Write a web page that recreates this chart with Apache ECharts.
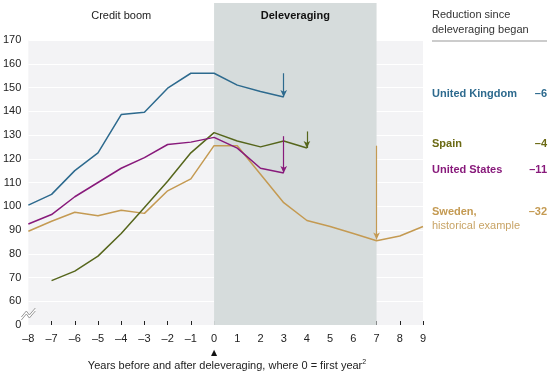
<!DOCTYPE html>
<html>
<head>
<meta charset="utf-8">
<script src="https://cdn.jsdelivr.net/npm/echarts@6/dist/echarts.min.js"></script>
<style>
  html, body {margin: 0; padding: 0; background: #fff;}
  #chart {width: 554px; height: 376px;}
</style>
</head>
<body>
<div id="chart"></div>
<script>
// years relative to start of deleveraging
const years = [-8, -7, -6, -5, -4, -3, -2, -1, 0, 1, 2, 3, 4, 5, 6, 7, 8, 9]
const tickYears = [-7, -6, -5, -4, -3, -2, -1, 0, 1, 2, 3, 4, 5, 6, 7, 8, 9]
const uk     = [100.5, 105, 115, 122.5, 138.6, 139.6, 149.7, 156, 156, 151, 148.3, 146, null, null, null, null, null, null]
const spain  = [null, 68.7, 72.7, 79, 88.5, 99.5, 110.5, 122.5, 131, 127.5, 125, 127.5, 124.5, null, null, null, null, null]
const us     = [92.5, 96.5, 104, 110, 116, 120.5, 126, 127, 129, 124.5, 116, 114, null, null, null, null, null, null]
const sweden = [89.5, 93.7, 97.5, 96, 98.3, 97, 106.5, 111.5, 125.5, 125.5, 113.5, 101.5, 94, 91.5, 88.5, 85.5, 87.5, 91.5]

// reduction arrows: [year, from, to]
const ukArrow = [3, 156, 146]
const spainArrow = [4, 131.5, 124.5]
const usArrow = [3, 129.5, 114]
const swedenArrow = [7, 125.5, 86]

const colors = {uk: '#2d6a8e', spain: '#56661c', us: '#881a7b', sweden: '#c49a52'}
const font = 'Liberation Sans, Arial, sans-serif'

const chart = echarts.init(document.getElementById('chart'))

const pair = (ys) => years.map((x, i) => [x, ys[i]])

const arrow = function (a, color) {
  return {
    silent: true,
    symbol: ['none', 'arrow'],
    symbolSize: [5, 7],
    label: {show: false},
    lineStyle: {color: color, width: 1.2, type: 'solid'},
    data: [[{coord: [a[0], a[1]]}, {coord: [a[0], a[2]]}]]
  }
}

const lineSeries = function (name, ys, color, a) {
  return {
    name: name,
    type: 'line',
    data: pair(ys),
    symbol: 'none',
    connectNulls: false,
    lineStyle: {color: color, width: 1.5},
    itemStyle: {color: color},
    markLine: arrow(a, color),
    z: 3
  }
}

chart.setOption({
  animation: false,
  grid: {
    left: 28, right: 131, top: 40, bottom: 51,
    show: true, backgroundColor: '#f3f3f5', borderWidth: 0
  },
  xAxis: {
    type: 'value', min: -8, max: 9, interval: 1,
    axisLine: {show: false},
    axisTick: {show: true, inside: true, length: 4, customValues: tickYears, lineStyle: {color: '#222'}},
    splitLine: {show: false},
    axisLabel: {
      color: '#222', fontFamily: font, fontSize: 11, margin: 8,
      formatter: v => v < 0 ? '\u2013' + (-v) : String(v)
    }
  },
  yAxis: {
    type: 'value', min: 50, max: 170, interval: 10,
    axisLine: {show: false},
    axisTick: {show: false},
    splitLine: {lineStyle: {color: '#ffffff', width: 1}},
    axisLabel: {
      color: '#222', fontFamily: font, fontSize: 11, margin: 7,
      formatter: v => v === 50 ? '0' : String(v)
    }
  },
  series: [
    {
      type: 'line', data: [], silent: true,
      markArea: {
        silent: true,
        itemStyle: {color: '#d6dcdc'},
        data: [[{coord: [0, 50]}, {coord: [7, 170]}]]
      },
      z: 1
    },
    lineSeries('Sweden', sweden, colors.sweden, swedenArrow),
    lineSeries('Spain', spain, colors.spain, spainArrow),
    lineSeries('United States', us, colors.us, usArrow),
    lineSeries('United Kingdom', uk, colors.uk, ukArrow)
  ]
})

// decorations positioned from the axes
const p0 = chart.convertToPixel({gridIndex: 0}, [0, 170])
const p7 = chart.convertToPixel({gridIndex: 0}, [7, 170])
const pl = chart.convertToPixel({gridIndex: 0}, [-8, 50])

chart.setOption({
  graphic: [
    {type: 'rect', shape: {x: p0[0], y: 3, width: p7[0] - p0[0], height: p0[1] - 3}, style: {fill: '#d6dcdc'}, z: 0, silent: true},
    {type: 'text', x: (pl[0] + p0[0]) / 2, y: 16, style: {text: 'Credit boom', fill: '#222', font: '11px ' + font, align: 'center', verticalAlign: 'middle'}},
    {type: 'text', x: (p0[0] + p7[0]) / 2, y: 16, style: {text: 'Deleveraging', fill: '#111', font: 'bold 11px ' + font, align: 'center', verticalAlign: 'middle'}},
    // axis break mark
    {type: 'polygon', shape: {points: [[pl[0] - 7, pl[1] - 8], [pl[0] - 2, pl[1] - 14], [pl[0] + 1, pl[1] - 10], [pl[0] + 7, pl[1] - 17],
      [pl[0] + 7, pl[1] - 14], [pl[0] + 1, pl[1] - 7], [pl[0] - 2, pl[1] - 11], [pl[0] - 7, pl[1] - 5]]}, style: {fill: '#fff', stroke: null}, z: 10},
    {type: 'polyline', shape: {points: [[pl[0] - 7, pl[1] - 8], [pl[0] - 2, pl[1] - 14], [pl[0] + 1, pl[1] - 10], [pl[0] + 7, pl[1] - 17]]}, style: {stroke: '#999', lineWidth: 1, fill: null}, z: 11},
    {type: 'polyline', shape: {points: [[pl[0] - 7, pl[1] - 5], [pl[0] - 2, pl[1] - 11], [pl[0] + 1, pl[1] - 7], [pl[0] + 7, pl[1] - 14]]}, style: {stroke: '#999', lineWidth: 1, fill: null}, z: 11},
    // marker under year 0
    {type: 'text', x: p0[0], y: 353, style: {text: '\u25B2', fill: '#111', font: '8px DejaVu Sans', align: 'center', verticalAlign: 'middle'}},
    {type: 'text', x: 227, y: 366, style: {
      text: '{a|Years before and after deleveraging, where 0 = first year}{s|2}',
      align: 'center', verticalAlign: 'middle',
      rich: {a: {fill: '#222', font: '11px ' + font}, s: {fill: '#222', font: '7px ' + font, verticalAlign: 'top', padding: [0, 0, 7, 0]}}
    }},
    // right side legend
    {type: 'text', x: 432, y: 22, style: {text: 'Reduction since\ndeleveraging began', fill: '#333', font: '11px ' + font, lineHeight: 15, verticalAlign: 'middle'}},
    {type: 'line', shape: {x1: 432, y1: 41, x2: 547, y2: 41}, style: {stroke: '#999', lineWidth: 1}},
    {type: 'text', x: 432, y: 94, style: {text: 'United Kingdom', fill: colors.uk, font: 'bold 11px ' + font, verticalAlign: 'middle'}},
    {type: 'text', x: 547, y: 94, style: {text: '\u20136', fill: colors.uk, font: 'bold 11px ' + font, align: 'right', verticalAlign: 'middle'}},
    {type: 'text', x: 432, y: 144, style: {text: 'Spain', fill: '#6b6a14', font: 'bold 11px ' + font, verticalAlign: 'middle'}},
    {type: 'text', x: 547, y: 144, style: {text: '\u20134', fill: '#6b6a14', font: 'bold 11px ' + font, align: 'right', verticalAlign: 'middle'}},
    {type: 'text', x: 432, y: 170, style: {text: 'United States', fill: colors.us, font: 'bold 11px ' + font, verticalAlign: 'middle'}},
    {type: 'text', x: 547, y: 170, style: {text: '\u201311', fill: colors.us, font: 'bold 11px ' + font, align: 'right', verticalAlign: 'middle'}},
    {type: 'text', x: 432, y: 212, style: {text: 'Sweden,', fill: colors.sweden, font: 'bold 11px ' + font, verticalAlign: 'middle'}},
    {type: 'text', x: 547, y: 212, style: {text: '\u201332', fill: colors.sweden, font: 'bold 11px ' + font, align: 'right', verticalAlign: 'middle'}},
    {type: 'text', x: 432, y: 226, style: {text: 'historical example', fill: '#c8a466', font: '11px ' + font, verticalAlign: 'middle'}}
  ]
})
</script>
</body>
</html>
